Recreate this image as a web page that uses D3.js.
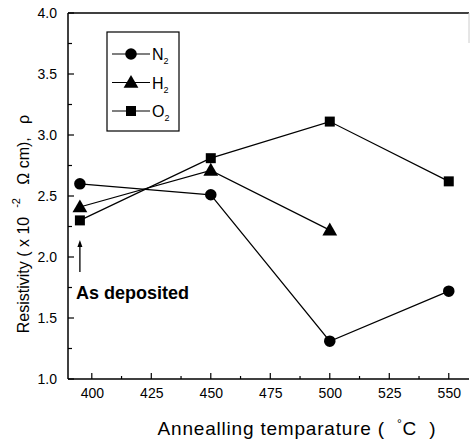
<!DOCTYPE html>
<html><head><meta charset="utf-8">
<script src="https://cdn.jsdelivr.net/npm/d3@7"></script>
<style>body{margin:0;background:#fff}svg{display:block}text{font-family:"Liberation Sans",Arial,sans-serif;fill:#000;white-space:pre}</style>
</head><body><svg id="c" width="471" height="439"></svg>
<script>
const temps = [395, 450, 500, 550];
const n2 = [2.60, 2.51, 1.31, 1.72];
const h2 = [2.41, 2.71, 2.22, null];
const o2 = [2.30, 2.81, 3.11, 2.62];
const xTicks = [400, 425, 450, 475, 500, 525, 550];
const yTicks = [1.0, 1.5, 2.0, 2.5, 3.0, 3.5, 4.0];
const seriesNames = ["N", "H", "O"];
const seriesSymbols = ["circle", "triangle", "square"];

const svg = d3.select("#c");
const L = 68, R = 469, T = 13, B = 379;
const x = d3.scaleLinear().domain([390, 558.5]).range([L, R]);
const y = d3.scaleLinear().domain([1, 4]).range([B, T]);

// frame
svg.append("line").attr("x1", L).attr("x2", R).attr("y1", T).attr("y2", T).attr("stroke", "#000").attr("stroke-width", 1.5);
svg.append("line").attr("x1", R).attr("x2", R).attr("y1", T).attr("y2", T + 30).attr("stroke", "#ccc").attr("stroke-width", 1);

// axes
const xAxis = d3.axisBottom(x).tickValues(xTicks).tickSize(0).tickPadding(9).tickFormat(d3.format("d"));
const gx = svg.append("g").attr("transform", `translate(0,${B})`).call(xAxis);
gx.select(".domain").attr("stroke-width", 1.5).attr("d", `M${L},0H${R}`);
gx.selectAll("text").attr("font-size", 14);
const xMinor = d3.range(400, 560, 12.5);
gx.selectAll(".mt").data(xMinor).enter().append("line")
  .attr("x1", d => x(d)).attr("x2", d => x(d)).attr("y1", 0)
  .attr("y2", (d, i) => i % 2 === 0 ? -6 : -3).attr("stroke", "#000").attr("stroke-width", 1.2);

const yAxis = d3.axisLeft(y).tickValues(yTicks).tickSize(0).tickPadding(11).tickFormat(d3.format(".1f"));
const gy = svg.append("g").attr("transform", `translate(${L},0)`).call(yAxis);
gy.select(".domain").attr("stroke-width", 1.5).attr("d", `M0,${B}V${T}`);
gy.selectAll("text").attr("font-size", 14);
const yMinor = d3.range(1.0, 4.01, 0.25);
gy.selectAll(".mt").data(yMinor).enter().append("line")
  .attr("y1", d => y(d)).attr("y2", d => y(d)).attr("x1", 0)
  .attr("x2", (d, i) => i % 2 === 0 ? 6 : 4).attr("stroke", "#000").attr("stroke-width", 1.2);

// titles
const xt = svg.append("text").attr("x", 297).attr("y", 435).attr("text-anchor", "middle").attr("font-size", 19).attr("letter-spacing", 0.8);
xt.append("tspan").text("Annealling temparature (  ");
xt.append("tspan").attr("font-size", 12).attr("dy", -7).text("°");
xt.append("tspan").attr("dy", 7).text("C  )");

const yt = svg.append("text").attr("transform", "translate(29,224) rotate(-90)").attr("text-anchor", "middle").attr("font-size", 16);
yt.append("tspan").text("Resistivity ( x 10  ");
yt.append("tspan").attr("font-size", 11).attr("dy", -9).text("-2");
yt.append("tspan").attr("dy", 9).text("   Ω cm),   ρ");

// series
const sym = {
  circle: d3.symbol().type(d3.symbolCircle).size(105),
  triangle: d3.symbol().type(d3.symbolTriangle).size(95),
  square: d3.symbol().type(d3.symbolSquare).size(100)
};
const data = [n2, h2, o2];
const line = d3.line().defined(d => d[1] != null).x(d => x(d[0])).y(d => y(d[1]));
data.forEach((vals, i) => {
  const pts = temps.map((t, j) => [t, vals[j]]);
  svg.append("path").attr("d", line(pts)).attr("fill", "none").attr("stroke", "#000").attr("stroke-width", 1.2);
  svg.selectAll(".p" + i).data(pts.filter(d => d[1] != null)).enter().append("path")
    .attr("d", sym[seriesSymbols[i]]())
    .attr("transform", d => `translate(${x(d[0])},${y(d[1]) + (seriesSymbols[i] === "triangle" ? 1 : 0)})`)
    .attr("fill", "#000");
});

// legend
const lg = svg.append("g");
lg.append("rect").attr("x", 107).attr("y", 32).attr("width", 72).attr("height", 99).attr("fill", "#fff").attr("stroke", "#000").attr("stroke-width", 1.2);
seriesNames.forEach((n, i) => {
  const ly = 54 + i * 28.5;
  lg.append("line").attr("x1", 112).attr("x2", 150).attr("y1", ly).attr("y2", ly).attr("stroke", "#000").attr("stroke-width", 1.2);
  lg.append("path").attr("d", sym[seriesSymbols[i]]()).attr("transform", `translate(131,${ly + (i === 1 ? 1 : 0)})`).attr("fill", "#000");
  const tx = lg.append("text").attr("x", 152).attr("y", ly + 6).attr("font-size", 16);
  tx.append("tspan").text(n);
  tx.append("tspan").attr("font-size", 9).attr("dy", 4).text("2");
});

// annotation
svg.append("line").attr("x1", x(395)).attr("x2", x(395)).attr("y1", 272).attr("y2", 244).attr("stroke", "#000").attr("stroke-width", 1.3);
svg.append("path").attr("d", `M${x(395)},240 l-2.5,7 h5 z`).attr("fill", "#000");
svg.append("text").attr("x", 76).attr("y", 299).attr("font-size", 18).attr("font-weight", "bold").text("As deposited");
</script></body></html>
